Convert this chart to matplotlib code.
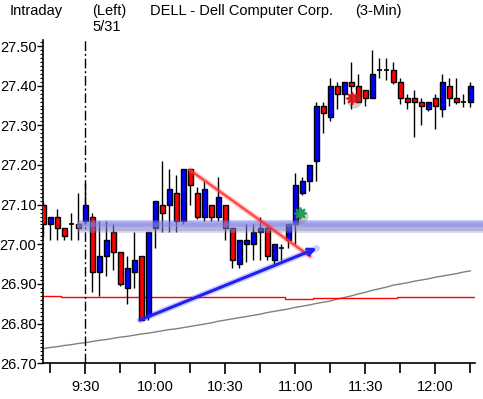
import matplotlib
matplotlib.use('Agg')
import matplotlib.pyplot as plt
import numpy as np

# ---------------- data ----------------
start_minutes = 9 * 60 + 12      # first bar 9:12, 3-minute bars
bar_minutes = 3

opens = [27.10, 27.05, 27.07, 27.04, 27.05, 27.05, 27.06, 27.07, 26.93, 26.97,
         27.03, 26.98, 26.89, 26.93, 26.97, 26.82, 27.04, 27.10, 27.10, 27.13,
         27.06, 27.19, 27.13, 27.07, 27.10, 27.07, 27.10, 27.04, 26.95, 27.00,
         27.00, 27.03, 27.04, 26.96, 26.99, 27.01, 27.05, 27.13, 27.16, 27.21,
         27.35, 27.32, 27.40, 27.38, 27.41, 27.40, 27.39, 27.37, 27.44, 27.44,
         27.44, 27.41, 27.37, 27.37, 27.36, 27.34, 27.37, 27.34, 27.40, 27.37,
         27.36, 27.36]
highs = [27.11, 27.07, 27.09, 27.04, 27.08, 27.13, 27.155, 27.08, 27.06, 27.06,
         27.05, 26.98, 26.97, 27.03, 26.97, 27.03, 27.11, 27.21, 27.19, 27.175,
         27.19, 27.19, 27.145, 27.16, 27.10, 27.17, 27.10, 27.04, 27.01, 27.05,
         27.05, 27.07, 27.05, 27.00, 27.00, 27.05, 27.18, 27.17, 27.20, 27.36,
         27.36, 27.42, 27.41, 27.41, 27.46, 27.43, 27.39, 27.49, 27.47, 27.47,
         27.46, 27.42, 27.38, 27.39, 27.37, 27.36, 27.38, 27.43, 27.42, 27.42,
         27.38, 27.41]
lows = [27.02, 27.01, 27.01, 27.01, 27.01, 27.01, 27.05, 26.88, 26.87, 26.92,
        26.935, 26.895, 26.85, 26.89, 26.81, 26.81, 26.99, 27.03, 27.03, 27.03,
        27.05, 27.10, 27.065, 27.06, 27.06, 27.06, 27.01, 26.94, 26.94, 26.955,
        26.96, 26.96, 26.96, 26.95, 26.96, 26.99, 27.00, 27.125, 27.135, 27.16,
        27.28, 27.31, 27.34, 27.355, 27.34, 27.36, 27.35, 27.37, 27.42, 27.415,
        27.405, 27.355, 27.34, 27.27, 27.30, 27.335, 27.29, 27.32, 27.35, 27.355,
        27.345, 27.345]
closes = [27.05, 27.07, 27.04, 27.02, 27.05, 27.04, 27.10, 26.93, 26.97, 27.01,
          26.98, 26.90, 26.94, 26.96, 26.81, 27.03, 27.11, 27.08, 27.14, 27.06,
          27.19, 27.15, 27.07, 27.14, 27.07, 27.12, 27.04, 26.96, 27.01, 27.01,
          27.03, 27.04, 26.97, 27.00, 26.99, 27.05, 27.15, 27.16, 27.20, 27.35,
          27.33, 27.40, 27.38, 27.41, 27.40, 27.36, 27.37, 27.43, 27.44, 27.44,
          27.41, 27.37, 27.36, 27.36, 27.35, 27.36, 27.35, 27.41, 27.37, 27.36,
          27.36, 27.40]

# slow moving average (grey)
moving_avg = [26.737, 26.740, 26.742, 26.745, 26.747, 26.750, 26.752, 26.755, 26.758, 26.760,
              26.763, 26.766, 26.768, 26.771, 26.774, 26.776, 26.779, 26.782, 26.785, 26.787,
              26.790, 26.793, 26.796, 26.799, 26.802, 26.806, 26.809, 26.812, 26.815, 26.818,
              26.821, 26.824, 26.828, 26.831, 26.834, 26.837, 26.841, 26.844, 26.847, 26.851,
              26.854, 26.857, 26.862, 26.866, 26.870, 26.875, 26.879, 26.884, 26.888, 26.892,
              26.897, 26.900, 26.903, 26.907, 26.910, 26.913, 26.917, 26.920, 26.923, 26.926,
              26.930, 26.933]

# red reference step line: (start bar, value)
ref_steps_x = [-0.1, 2.5, 34.5, 38.5, 50.5, 61.7]
ref_steps_y = [26.869, 26.866, 26.862, 26.865, 26.867]

band_level = 27.052
red_trend_x = [20.96, 38.1]
red_trend_y = [27.187, 26.970]
blue_trend_x = [13.8, 39.06]
blue_trend_y = [26.809, 26.990]
green_mark = (36.6, 27.078)
red_mark = (44.06, 27.368)

time_labels = ['9:30', '10:00', '10:30', '11:00', '11:30', '12:00']
y_ticks = [26.70, 26.80, 26.90, 27.00, 27.10, 27.20, 27.30, 27.40, 27.50]

# ---------------- figure ----------------
FONT = ['Liberation Sans', 'DejaVu Sans']
FS = 10.5
plt.rcParams['font.family'] = FONT

W, H = 483, 399
fig = plt.figure(figsize=(W / 100, H / 100), dpi=100)
left_px, right_px, top_px, bot_px = 42.7, 475, 40, 363.3
ax = fig.add_axes([left_px / W, (H - bot_px) / H, (right_px - left_px) / W, (bot_px - top_px) / H])

def to_idx(hhmm):
    h, m = hhmm.split(':')
    return (int(h) * 60 + int(m) - start_minutes) / bar_minutes

n = len(opens)
idx = np.arange(n)
x0 = -0.09
x1 = x0 + (right_px - left_px) / 7.0
ax.set_xlim(x0, x1)
ymin = 26.70
ax.set_ylim(ymin, ymin + (bot_px - top_px) / 396.6)

BLUE = '#0000ff'
RED = '#ff0000'

# grey moving average
ax.plot(idx, moving_avg, color='#808080', lw=1, zorder=2)
# red reference line
ax.stairs(ref_steps_y, ref_steps_x, color='#ff0000', lw=1, baseline=None, zorder=2)

# 9:30 dash-dot separator
ax.axvline(to_idx('9:30'), color='black', lw=1, dashes=(7, 2, 1.5, 2), zorder=2)

# candles
body_w = 0.72
for i in range(n):
    o, h, l, c = opens[i], highs[i], lows[i], closes[i]
    ax.vlines(i, l, h, color='black', lw=1, zorder=3)
    if abs(c - o) < 1e-9:
        ax.hlines(o, i - body_w / 2, i + body_w / 2, color='black', lw=1.2, zorder=4)
    else:
        col = BLUE if c > o else RED
        ax.bar(i, c - o, bottom=o, width=body_w, color=col, edgecolor='black',
               lw=1, zorder=4)

# glowing blue horizontal band with shadow
bx = [4.8, x1 + 1.2]
ax.plot(bx, [band_level - 0.012] * 2, color='#9090a0', lw=7, alpha=0.35,
        solid_capstyle='butt', clip_on=False, zorder=5)
ax.plot(bx, [band_level - 0.003] * 2, color='#7070e0', lw=8, alpha=0.35,
        solid_capstyle='butt', clip_on=False, zorder=5)
ax.plot(bx, [band_level] * 2, color='#8080f0', lw=4, alpha=0.45,
        solid_capstyle='butt', clip_on=False, zorder=5)

# red trend line (glow)
ax.plot(red_trend_x, red_trend_y, color='#ff4040', lw=4, alpha=0.25, zorder=6,
        solid_capstyle='round')
ax.plot(red_trend_x, red_trend_y, color='#ff3030', lw=1.8, alpha=0.85, zorder=6)

# blue trend arrow (glow)
ax.plot(blue_trend_x, blue_trend_y, color='#3030ff', lw=4.5, alpha=0.25, zorder=6,
        solid_capstyle='round')
ax.annotate('', xy=(blue_trend_x[1], blue_trend_y[1]),
            xytext=(blue_trend_x[0], blue_trend_y[0]),
            arrowprops=dict(arrowstyle='->,head_length=0.45,head_width=0.22',
                            color='#2020f0', lw=2.2, shrinkA=0, shrinkB=0),
            zorder=7)

# star markers with shadow
for (mx, my), col in [(green_mark, '#1a9a50'), (red_mark, '#e01010')]:
    ax.plot(mx + 0.25, my - 0.006, marker='o', ms=10, color='#606060', alpha=0.3,
            mec='none', zorder=7)
    ax.plot(mx, my, marker=(8, 1, 0), ms=9, color=col, mec=col, alpha=0.9, zorder=8)

# axes styling
for s in ['top', 'right']:
    ax.spines[s].set_visible(False)
for s in ['left', 'bottom']:
    ax.spines[s].set_linewidth(1.2)
    ax.spines[s].set_color('black')

ax.set_yticks(y_ticks)
ax.set_yticklabels(['%.2f' % v for v in y_ticks])
ax.set_yticks(np.round(np.arange(26.70, 27.515, 0.01), 2), minor=True)
ax.tick_params(axis='y', which='major', direction='out', length=4, width=1,
               pad=0.5, labelsize=FS)
ax.tick_params(axis='y', which='minor', direction='out', length=2.2, width=0.8)

xt_all = [to_idx('9:15') + 5 * k for k in range(13)]
ax.set_xticks([to_idx(t) for t in time_labels])
ax.set_xticklabels(time_labels)
ax.set_xticks([v for v in xt_all if all(abs(v - to_idx(t)) > 0.1 for t in time_labels)], minor=True)
ax.tick_params(axis='x', which='major', direction='out', length=8, width=1.2,
               pad=4, labelsize=FS)
ax.tick_params(axis='x', which='minor', direction='out', length=7, width=1.2)

# header texts
def ftext(xp, yp, s):
    fig.text(xp / W, 1 - yp / H, s, ha='left', va='center', fontsize=FS,
             family=FONT)

ftext(10, 11, 'Intraday')
ftext(92, 11, '(Left)')
ftext(150, 11, 'DELL - Dell Computer Corp.')
ftext(355, 11, '(3-Min)')
ftext(92, 27, '5/31')

fig.savefig('out.png', dpi=100)
